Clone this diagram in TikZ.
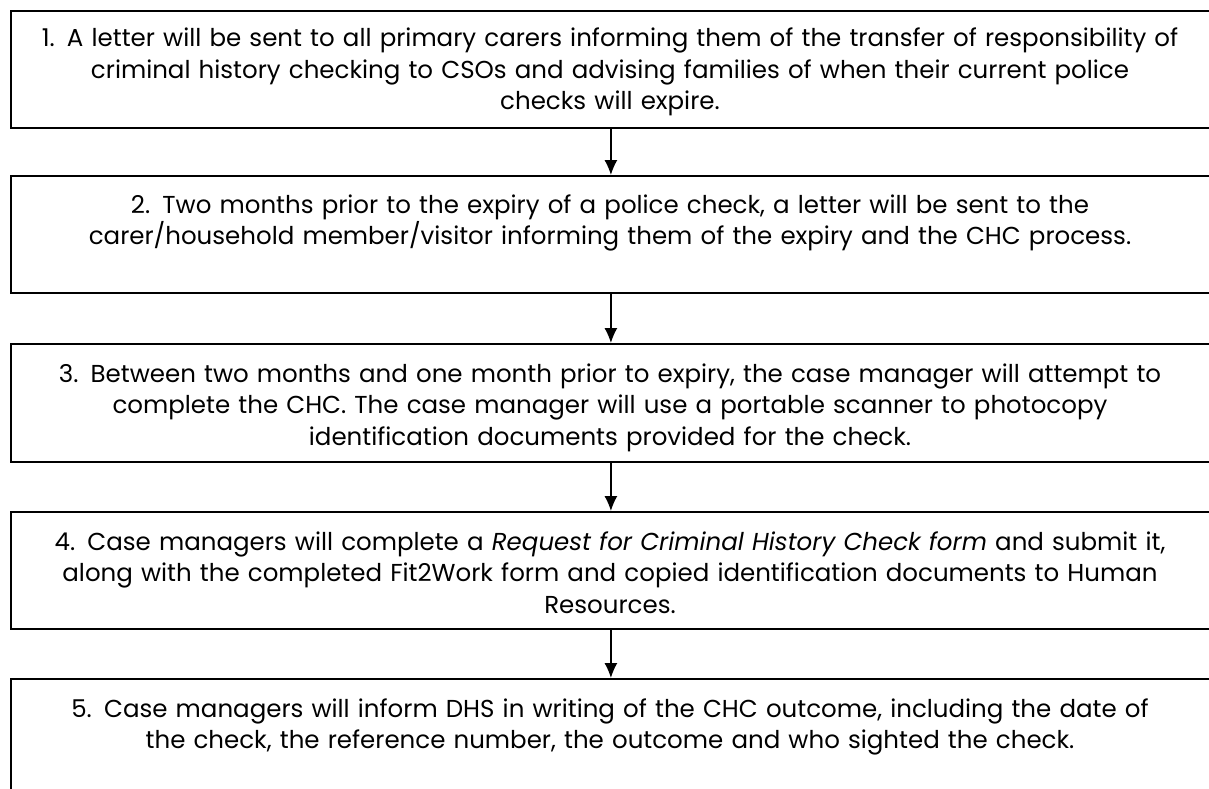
\documentclass[tikz,border=0pt]{standalone}
\usepackage{fontspec}
\setmainfont{Poppins}
\usetikzlibrary{arrows.meta}

\begin{document}
\begin{tikzpicture}[x=1pt, y=-1pt, >={Latex[length=15pt,width=13pt]},
  stepbox/.style={draw, line width=1.8pt, minimum width=1200pt, inner sep=0pt, anchor=north west},
  steptext/.style={anchor=base, text width=1200pt, align=center, inner sep=0pt,
    font=\fontsize{24.5}{31.5}\selectfont},
  flow/.style={->, line width=1.3pt}]
  \useasboundingbox (0,0) rectangle (1209,789);

  % Boxes
  \node[stepbox, minimum height=117pt] (s1) at (10,10) {};
  \node[stepbox, minimum height=117pt] (s2) at (10,175) {};
  \node[stepbox, minimum height=118pt] (s3) at (10,343) {};
  \node[stepbox, minimum height=117pt] (s4) at (10,511) {};
  \node[stepbox, minimum height=117pt] (s5) at (10,678) {};

  % Texts
  \node[steptext] (t1) at (610,47) {1. A letter will be sent to all primary carers informing them of the transfer of responsibility of\\
    criminal history checking to CSOs and advising families of when their current police\\
    checks will expire.};
  \node[steptext] (t2) at (610,213) {2. Two months prior to the expiry of a police check, a letter will be sent to the\\
    carer/household member/visitor informing them of the expiry and the CHC process.};
  \node[steptext] (t3) at (610,382) {3. Between two months and one month prior to expiry, the case manager will attempt to\\
    complete the CHC. The case manager will use a portable scanner to photocopy\\
    identification documents provided for the check.};
  \node[steptext] (t4) at (610,550) {4. Case managers will complete a \textit{Request for Criminal History Check form} and submit it,\\
    along with the completed Fit2Work form and copied identification documents to Human\\
    Resources.};
  \node[steptext] (t5) at (610,717) {5. Case managers will inform DHS in writing of the CHC outcome, including the date of\\
    the check, the reference number, the outcome and who sighted the check.};

  % Arrows
  \draw[flow] (s1.south) -- (s2.north);
  \draw[flow] (s2.south) -- (s3.north);
  \draw[flow] (s3.south) -- (s4.north);
  \draw[flow] (s4.south) -- (s5.north);
\end{tikzpicture}
\end{document}
